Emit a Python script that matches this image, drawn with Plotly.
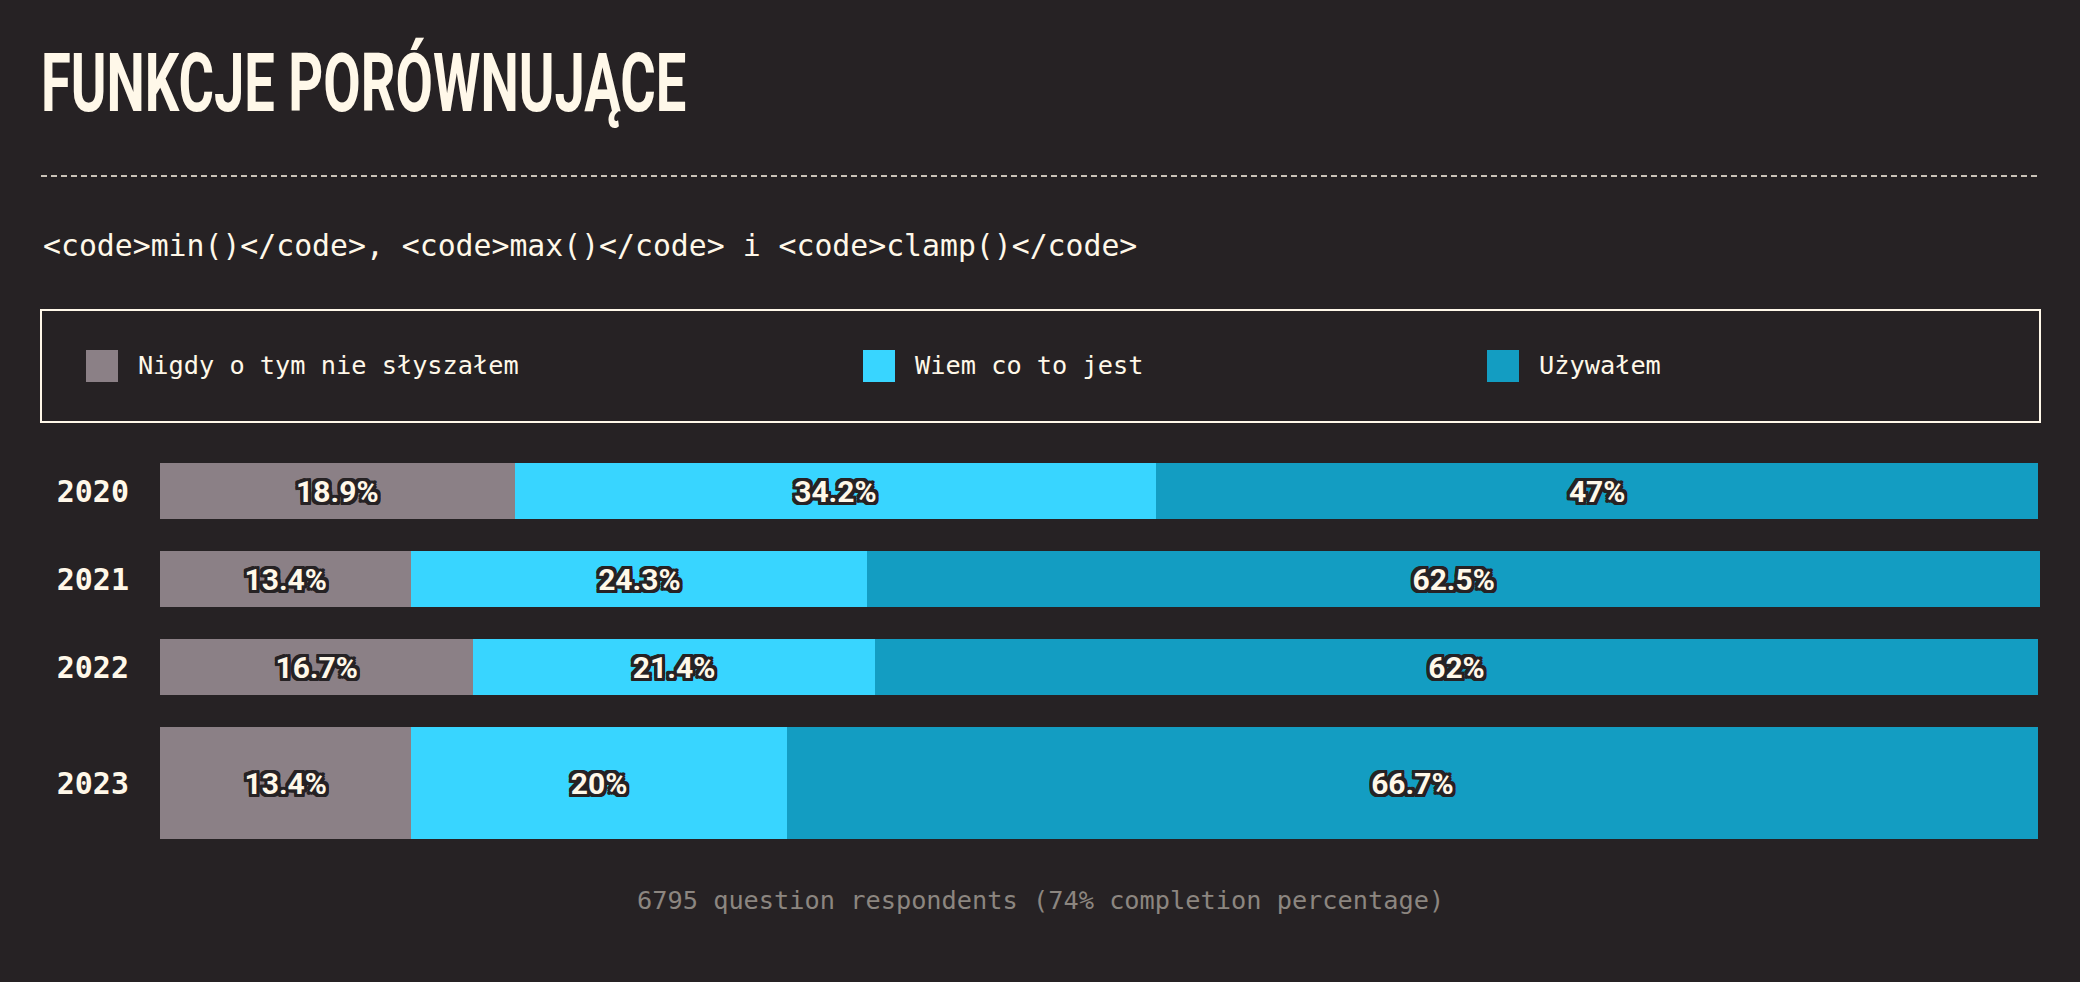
import plotly.graph_objects as go

# ---- data ----
years = ["2020", "2021", "2022", "2023"]
never_heard = [18.9, 13.4, 16.7, 13.4]
know_it = [34.2, 24.3, 21.4, 20]
used_it = [47, 62.5, 62, 66.7]
series_names = ["Nigdy o tym nie słyszałem", "Wiem co to jest", "Używałem"]
bar_thickness = [1, 1, 1, 2]  # relative thickness of each year's bar

title_text = "FUNKCJE PORÓWNUJĄCE"
subtitle_text = "&lt;code&gt;min()&lt;/code&gt;, &lt;code&gt;max()&lt;/code&gt; i &lt;code&gt;clamp()&lt;/code&gt;"
footer_text = "6795 question respondents (74% completion percentage)"

# ---- style ----
BG = "#262224"
CREAM = "#FFF8E9"
COLORS = ["#8B8086", "#38D5FF", "#139DC2"]
FOOT = "#8C8680"
MONO = "DejaVu Sans Mono, Liberation Mono, monospace"
COND = "Roboto, Liberation Sans, sans-serif"

W, H = 2080, 982
L, R, T, B = 160, 40, 463, 143
PW, PH = W - L - R, H - T - B

def px(x):
    return (x - L) / PW

def py(y):
    return (H - B - y) / PH

# y positions computed from thickness and constant gap
gap = 32 / 56
centers, start = [], 0.0
for t in bar_thickness:
    centers.append(start + t / 2)
    start += t + gap
y_total = start - gap

outline = ", ".join(
    f"{dx}px {dy}px 0 {BG}" for dx in (-3, -2, 0, 2, 3) for dy in (-3, -2, 0, 2, 3) if (dx, dy) != (0, 0)
)

fig = go.Figure()
for name, vals, col in zip(series_names, [never_heard, know_it, used_it], COLORS):
    fig.add_trace(go.Bar(
        y=centers, x=vals, orientation="h", name=name,
        width=bar_thickness,
        marker=dict(color=col, line=dict(width=0)),
        text=[f"{v:g}%" for v in vals],
        textposition="inside", insidetextanchor="middle",
        textangle=0, constraintext="none",
        textfont=dict(family=COND, size=30, color=CREAM, weight="bold", shadow=outline),
        showlegend=False, hoverinfo="skip",
    ))

fig.update_layout(
    barmode="stack", bargap=0,
    width=W, height=H, autosize=False,
    paper_bgcolor=BG, plot_bgcolor=BG,
    margin=dict(l=L, r=R, t=T, b=B, pad=0),
    title=dict(
        text=title_text, xref="container", yref="container",
        x=41 / W, y=1 - 83 / H, xanchor="left", yanchor="middle",
        font=dict(family=COND, size=81, color=CREAM, weight="bold"),
    ),
    xaxis=dict(range=[0, 100.2], visible=False, fixedrange=True),
    yaxis=dict(
        range=[y_total, 0], tickvals=centers, ticktext=years,
        showgrid=False, zeroline=False, showline=False, ticks="",
        ticklabelstandoff=30,
        tickfont=dict(family=MONO, size=30, color=CREAM, weight="bold"),
        fixedrange=True,
    ),
)

shapes = [
    dict(type="line", xref="paper", yref="paper", x0=px(41), x1=px(2040), y0=py(176), y1=py(176),
         line=dict(color=CREAM, width=1.5, dash="6px,4px")),
    dict(type="rect", xref="paper", yref="paper", x0=px(41), x1=px(2040), y0=py(422), y1=py(310),
         line=dict(color=CREAM, width=2), fillcolor="rgba(0,0,0,0)"),
]
swatch_x = [86, 863, 1487]
for sx, col in zip(swatch_x, COLORS):
    shapes.append(dict(type="rect", xref="paper", yref="paper", x0=px(sx), x1=px(sx + 32),
                       y0=py(382), y1=py(350), line=dict(width=0), fillcolor=col))

annotations = [
    dict(text=subtitle_text, xref="paper", yref="paper", x=px(41), y=py(245),
         xanchor="left", yanchor="middle", showarrow=False,
         font=dict(family=MONO, size=29.8, color=CREAM)),
    dict(text=footer_text, xref="paper", yref="paper", x=px(1040), y=py(900),
         xanchor="center", yanchor="middle", showarrow=False,
         font=dict(family=MONO, size=25.3, color=FOOT)),
]
for sx, name in zip(swatch_x, series_names):
    annotations.append(dict(text=name, xref="paper", yref="paper", x=px(sx + 50), y=py(365),
                            xanchor="left", yanchor="middle", showarrow=False,
                            font=dict(family=MONO, size=25.3, color=CREAM)))

fig.update_layout(shapes=shapes, annotations=annotations)

js = """
document.body.style.margin = '0';
document.body.style.background = '#262224';
var t = document.querySelector('.gtitle');
if (t) { t.style.transformOrigin = '41px 0px'; t.style.transform = 'scaleX(0.67)'; }
"""
fig.write_html("out.html", post_script=js, config={"displayModeBar": False, "staticPlot": True})
